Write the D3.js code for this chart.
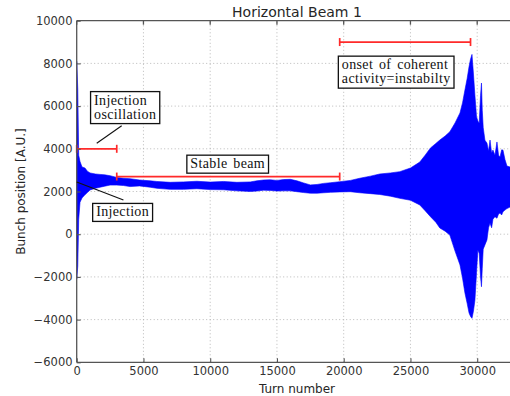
<!DOCTYPE html>
<html>
<head>
<meta charset="utf-8">
<script src="https://cdn.jsdelivr.net/npm/d3@7"></script>
<style>
  html, body { margin: 0; padding: 0; background: #fff; }
  svg { display: block; }
</style>
</head>
<body>
<svg id="chart" width="510" height="396"></svg>
<script>
// Turn-by-turn horizontal position envelope of beam 1 (upper / lower edge of the oscillation)
const turns = [0, 80, 150, 250, 400, 620, 800, 1000, 1400, 1750,
  2100, 2500, 3000, 3500, 4000, 4700, 5500, 6000, 7000, 8000,
  9000, 10000, 11000, 12000, 13000, 13500, 14000, 14500, 15000, 15500,
  16000, 16500, 17000, 17500, 18000, 18500, 19000, 19700, 20500, 21200,
  22000, 22700, 23500, 24200, 25000, 25700, 26100, 26500, 26900, 27200,
  27600, 27950, 28340, 28710, 28900, 29080, 29250, 29390, 29500, 29610,
  29720, 29830, 29950, 30050, 30150, 30250, 30320, 30380, 30450, 30580,
  30730, 30850, 30960, 31080, 31180, 31330, 31480, 31600, 31710, 31830,
  31930, 32080, 32230, 32460, 33000];
const upper = [8100, 6800, 3700, 3400, 3150, 3100, 2950, 2870, 2820, 2800,
  2780, 2740, 2660, 2620, 2600, 2540, 2500, 2470, 2430, 2450,
  2480, 2440, 2470, 2430, 2450, 2500, 2540, 2550, 2520, 2560,
  2570, 2500, 2400, 2310, 2330, 2380, 2410, 2460, 2520, 2620,
  2720, 2820, 2870, 2930, 3100, 3380, 3700, 4040, 4250, 4410,
  4600, 4800, 5210, 5680, 6150, 6750, 7300, 7850, 8200, 8420,
  7500, 6500, 5500, 5300, 5200, 6500, 7080, 5800, 5000, 4400,
  4270, 3900, 4410, 3800, 3940, 3700, 4320, 3700, 3620, 3950,
  3940, 3500, 3190, 3150, 3100];
const lower = [-2100, -1500, 700, 1500, 1700, 1850, 1950, 2070, 2150, 2200,
  2250, 2300, 2300, 2280, 2230, 2260, 2200, 2150, 2100, 2100,
  2130, 2090, 2080, 2030, 2000, 2020, 2060, 2050, 2020, 2030,
  2030, 1990, 1950, 1920, 1920, 1940, 1960, 1980, 1990, 1940,
  1900, 1860, 1780, 1680, 1590, 1370, 1100, 820, 560, 290,
  140, -40, -790, -1440, -2050, -2750, -3250, -3690, -3850, -3940,
  -3600, -3090, -1800, -740, -900, -2000, -2460, -1600, -700, -500,
  -270, 300, 520, 300, 700, 820, 750, 950, 990, 900,
  1050, 1130, 1200, 1270, 1300];

// Axis ticks
const xTicks = [0, 5000, 10000, 15000, 20000, 25000, 30000];
const yTicks = [-6000, -4000, -2000, 0, 2000, 4000, 6000, 8000, 10000];

// Phase intervals (red bars with end caps)
const spanStart = [0, 3000, 19700];
const spanEnd = [3000, 19700, 29500];
const spanLevel = [4000, 2700, 9000];

// Text boxes: lines and box centre in data units
const noteLines = [["Injection", "oscillation"], ["Stable beam"], ["onset of coherent", "activity=instabilty"], ["Injection"]];
const noteTurn = [3630, 11310, 23930, 3440];
const noteValue = [5930, 3280, 7590, 1020];

// Leader lines: from point (turn, value) to point (turn, value)
const leaderFrom = [[3370, 5080], [0, 2450]];
const leaderTo = [[1500, 4260], [3500, 1600]];

const svg = d3.select("#chart");
const x = d3.scaleLinear().domain([0, 33000]).range([76.7, 517.25]);
const y = d3.scaleLinear().domain([-6000, 10000]).range([362.3, 20.7]);
const [x0, x1] = x.range();
const [yb, yt] = y.range();

svg.append("defs").append("clipPath").attr("id", "plot")
  .append("rect").attr("x", x0).attr("y", yt).attr("width", x1 - x0).attr("height", yb - yt);

// Grid
const grid = svg.append("g").attr("stroke", "#a8a8a8").attr("stroke-width", 0.8).attr("stroke-dasharray", "1,2.5");
grid.selectAll("line.v").data(xTicks.slice(1)).join("line").attr("class", "v")
  .attr("x1", d => x(d)).attr("x2", d => x(d)).attr("y1", yb).attr("y2", yt);
grid.selectAll("line.h").data(yTicks.slice(1, -1)).join("line").attr("class", "h")
  .attr("x1", x0).attr("x2", x1).attr("y1", d => y(d)).attr("y2", d => y(d));

// Signal envelope
const series = turns.map((t, i) => ({ t, hi: upper[i], lo: lower[i] }));
const area = d3.area().x(d => x(d.t)).y0(d => y(d.lo)).y1(d => y(d.hi));
svg.append("g").attr("clip-path", "url(#plot)")
  .append("path").datum(series).attr("d", area)
  .attr("fill", "#0000ff").attr("stroke", "#0000ff").attr("stroke-width", 0.6);

// Red interval bars
const red = "#ff2a2a";
const spans = svg.append("g").attr("stroke", red).attr("stroke-width", 1.7);
spanStart.forEach((s, i) => {
  const yy = y(spanLevel[i]);
  spans.append("line").attr("x1", x(s)).attr("x2", x(spanEnd[i])).attr("y1", yy).attr("y2", yy);
  [s, spanEnd[i]].forEach(v => {
    spans.append("line").attr("x1", x(v)).attr("x2", x(v)).attr("y1", yy - 4).attr("y2", yy + 4);
  });
});

// Spines and inward ticks
const axisColor = "#555";
const frame = svg.append("g").attr("stroke", axisColor).attr("stroke-width", 1.3);
frame.append("line").attr("x1", x0).attr("x2", x1).attr("y1", yb).attr("y2", yb);
frame.append("line").attr("x1", x0).attr("x2", x1).attr("y1", yt).attr("y2", yt);
frame.append("line").attr("x1", x0).attr("x2", x0).attr("y1", yt).attr("y2", yb);
frame.append("line").attr("x1", x1).attr("x2", x1).attr("y1", yt).attr("y2", yb);
frame.selectAll("line.tt").data(xTicks).join("line").attr("class", "tt")
  .attr("x1", d => x(d)).attr("x2", d => x(d)).attr("y1", yt).attr("y2", yt + 4);

const xAxis = d3.axisBottom(x).tickValues(xTicks).tickFormat(d3.format("d"))
  .tickSizeInner(-4).tickSizeOuter(0).tickPadding(4.5);
const yAxis = d3.axisLeft(y).tickValues(yTicks).tickFormat(d => d < 0 ? "\u2212" + Math.abs(d) : String(d))
  .tickSizeInner(-4).tickSizeOuter(0).tickPadding(4.2);

function styleAxis(g) {
  g.select(".domain").remove();
  g.selectAll(".tick line").attr("stroke", axisColor).attr("stroke-width", 1.1);
  g.selectAll(".tick text").attr("fill", "#333")
    .style("font-family", "'DejaVu Sans', sans-serif").style("font-size", "11.5px");
}
svg.append("g").attr("transform", `translate(0,${yb})`).call(xAxis).call(styleAxis);
svg.append("g").attr("transform", `translate(${x0},0)`).call(yAxis).call(styleAxis);
// the right-hand tick marks sit on the spine beyond the visible area
frame.selectAll("line.rt").data(yTicks).join("line").attr("class", "rt")
  .attr("x1", x1).attr("x2", x1 - 4).attr("y1", d => y(d)).attr("y2", d => y(d));

// Title and axis labels
const sans = "'DejaVu Sans', sans-serif";
svg.append("text").attr("x", (x0 + x1) / 2).attr("y", 16.6).attr("text-anchor", "middle")
  .style("font-family", sans).style("font-size", "14px").attr("fill", "#262626")
  .text("Horizontal Beam 1");
svg.append("text").attr("x", (x0 + x1) / 2).attr("y", 393.3).attr("text-anchor", "middle")
  .style("font-family", sans).style("font-size", "12px").attr("fill", "#262626")
  .text("Turn number");
svg.append("text").attr("transform", `translate(24.5,${(yt + yb) / 2}) rotate(-90)`)
  .attr("text-anchor", "middle")
  .style("font-family", sans).style("font-size", "12px").attr("fill", "#262626")
  .text("Bunch position [A.U.]");

// Leader lines
const leaders = svg.append("g").attr("stroke", "#111").attr("stroke-width", 1.1);
leaderFrom.forEach((p, i) => {
  leaders.append("line").attr("x1", x(p[0])).attr("y1", y(p[1]))
    .attr("x2", x(leaderTo[i][0])).attr("y2", y(leaderTo[i][1]));
});

// Annotation boxes
const lineGap = 14;
noteLines.forEach((lines, i) => {
  const cx = x(noteTurn[i]), cy = y(noteValue[i]);
  const g = svg.append("g");
  const rect = g.append("rect").attr("fill", "#fff").attr("stroke", "#111").attr("stroke-width", 1.3);
  const txt = g.append("text").attr("text-anchor", "start")
    .style("font-family", "'Liberation Serif', 'Times New Roman', serif")
    .style("font-size", "14px").style("letter-spacing", "0.35px").style("word-spacing", "2px")
    .attr("fill", "#111");
  lines.forEach((l, k) => txt.append("tspan").attr("x", 0).attr("y", k * lineGap).text(l));
  const bb = txt.node().getBBox();
  const padX = 3.5, padY = 2;
  const w = bb.width + 2 * padX;
  const h = (lines.length - 1) * lineGap + 14 + 2 * padY;
  const left = cx - w / 2, top = cy - h / 2;
  txt.attr("transform", `translate(${left + padX},${top + padY + 11})`);
  rect.attr("x", left).attr("y", top).attr("width", w).attr("height", h);
});
</script>
</body>
</html>
